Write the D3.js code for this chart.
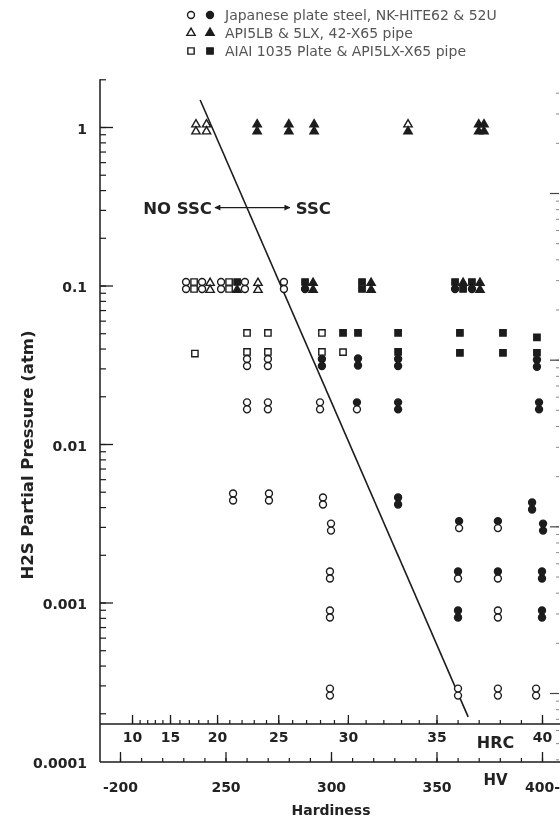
<!DOCTYPE html>
<html>
<head>
<meta charset="utf-8">
<script src="https://cdn.jsdelivr.net/npm/d3@7"></script>
<style>
body { margin: 0; background: #fff; }
svg { display: block; font-family: "DejaVu Sans", sans-serif; }
</style>
</head>
<body>
<div class="container"></div>
<script>
const width = 560;
const height = 819;

// legend
const seriesNames = ['Japanese plate steel, NK-HITE62 & 52U', 'API5LB & 5LX, 42-X65 pipe', 'AIAI 1035 Plate & API5LX-X65 pipe'];
const seriesShapes = ['c', 't', 's'];

// axes
const pressureTicks = [1, 0.1, 0.01, 0.001, 0.0001];
const pressureLabels = ['1', '0.1', '0.01', '0.001', '0.0001'];
const hvTicks = [200, 250, 300, 350, 400];
const hvLabels = ['-200', '250', '300', '350', '400-'];
const hrcTicks = [10, 15, 20, 25, 30, 35, 40];
const hrcAsHV = [205.7, 223.7, 246, 275, 308, 350, 400];

// points: [hardness HV, H2S pressure atm, marks from top to bottom]
// c circle, t triangle, s square; o open, f filled
const rowNear1 = [
    [236, 1, 'to to'], [241, 1, 'to to'], [265, 1, 'tf tf'], [280, 1, 'tf tf'],
    [292, 1, 'tf tf'], [336.5, 1, 'to tf'], [370, 1, 'tf tf'], [372.5, 1, 'tf tf']
];
const rowNear01 = [
    [231.3, 0.1, 'co co'], [235.1, 0.1, 'so so'], [238.9, 0.1, 'co co'], [242.7, 0.1, 'to to'],
    [247.9, 0.1, 'co co'], [251.7, 0.1, 'so so'], [255.5, 0.1, 'sf tf'], [259.2, 0.1, 'co co'],
    [265.4, 0.1, 'to to'], [277.7, 0.1, 'co co'], [287.7, 0.1, 'sf cf'], [291.5, 0.1, 'tf tf'],
    [314.7, 0.1, 'sf sf'], [319, 0.1, 'tf tf'], [358.8, 0.1, 'sf cf'], [362.6, 0.1, 'tf sf'],
    [366.8, 0.1, 'sf cf'], [370.6, 0.1, 'tf tf']
];
const rowNear005 = [
    [260.2, 0.0502, 'so'], [270.1, 0.0502, 'so'], [295.7, 0.0502, 'so'], [305.7, 0.0502, 'sf'],
    [312.8, 0.0502, 'sf'], [331.8, 0.0502, 'sf'], [361.1, 0.0502, 'sf'], [381.5, 0.0502, 'sf'],
    [397.6, 0.047, 'sf']
];
const rowNear0035 = [
    [235.5, 0.0372, 'so'], [260.2, 0.0344, 'so co co'], [270.1, 0.0344, 'so co co'],
    [295.7, 0.0344, 'so cf cf'], [305.7, 0.038, 'so'], [312.8, 0.0329, 'cf cf'],
    [331.8, 0.0344, 'sf cf cf'], [361.1, 0.0376, 'sf'], [381.5, 0.0376, 'sf'], [397.6, 0.034, 'sf cf cf']
];
const rowNear0017 = [
    [260.2, 0.0174, 'co co'], [270.1, 0.0174, 'co co'], [294.8, 0.0174, 'co co'],
    [312.3, 0.0174, 'cf co'], [331.8, 0.0174, 'cf cf'], [398.6, 0.0174, 'cf cf']
];
const rowNear0045 = [
    [253.6, 0.00463, 'co co'], [270.6, 0.00463, 'co co'], [296.2, 0.00437, 'co co'],
    [331.8, 0.00437, 'cf cf'], [395.3, 0.00406, 'cf cf']
];
const rowNear0003 = [
    [300, 0.00299, 'co co'], [360.7, 0.0031, 'cf co'], [379.1, 0.0031, 'cf co'], [400.5, 0.00299, 'cf cf']
];
const rowNear00015 = [
    [299.5, 0.00149, 'co co'], [360.2, 0.00149, 'cf co'], [379.1, 0.00149, 'cf co'], [400, 0.00149, 'cf cf']
];
const rowNear000085 = [
    [299.5, 0.000846, 'co co'], [360.2, 0.000846, 'cf cf'], [379.1, 0.000846, 'co co'], [400, 0.000846, 'cf cf']
];
const rowNear000027 = [
    [299.5, 0.000272, 'co co'], [360.2, 0.000272, 'co co'], [379.1, 0.000272, 'co co'], [397.2, 0.000272, 'co co']
];

// SSC boundary
const boundary = [[238, 1.48], [365, 0.00019]];

const points = [].concat(rowNear1, rowNear01, rowNear005, rowNear0035, rowNear0017,
    rowNear0045, rowNear0003, rowNear00015, rowNear000085, rowNear000027);

const ink = '#1b1b1b';

const svg = d3.select('.container')
    .append('svg')
    .attr('width', width)
    .attr('height', height);

svg.append('rect').attr('width', width).attr('height', height).attr('fill', '#fff');

const defs = svg.append('defs');
defs.append('filter').attr('id', 'scan')
    .append('feGaussianBlur').attr('stdDeviation', 0.35);
defs.append('marker')
    .attr('id', 'arrow')
    .attr('viewBox', '0 0 10 10')
    .attr('refX', 9).attr('refY', 5)
    .attr('markerWidth', 7).attr('markerHeight', 6)
    .attr('markerUnits', 'userSpaceOnUse')
    .attr('orient', 'auto-start-reverse')
    .append('path').attr('d', 'M0,0L10,5L0,10z').attr('fill', ink);

const G = svg.append('g').attr('filter', 'url(#scan)');

const x = d3.scaleLinear().domain([200, 400]).range([120, 542]);
const y = d3.scaleLog().domain([1, 0.0001]).range([127, 761]);
const hrcX = d3.scaleLinear().domain(hrcTicks).range(hrcAsHV.map(x));

const axisX = 100;
const hrcY = 724;
const hvY = 762;
const rightEdge = 560;

// left axis
G.append('line')
    .attr('x1', axisX).attr('x2', axisX)
    .attr('y1', y(2)).attr('y2', hvY)
    .attr('stroke', ink).attr('stroke-width', 1.5);

const yMinor = y.copy().domain([2, 0.0001]).ticks().filter(d => d < 2.01);

G.append('g')
    .attr('transform', 'translate(' + axisX + ',0)')
    .call(d3.axisRight(y).tickValues(yMinor.filter(d => d > 0.0001)).tickSize(6).tickFormat(''))
    .call(g => g.select('.domain').remove())
    .selectAll('line').attr('stroke', ink).attr('stroke-width', 1.2);

G.append('g')
    .attr('transform', 'translate(' + axisX + ',0)')
    .call(d3.axisRight(y).tickValues(pressureTicks.slice(0, 4)).tickSize(13).tickFormat(''))
    .call(g => g.select('.domain').remove())
    .selectAll('line').attr('stroke', ink).attr('stroke-width', 1.3);

G.append('g')
    .attr('transform', 'translate(' + axisX + ',2)')
    .call(d3.axisLeft(y).tickValues(pressureTicks).tickSize(0).tickPadding(13)
        .tickFormat((d, i) => pressureLabels[i]))
    .call(g => g.select('.domain').remove())
    .selectAll('text')
    .attr('font-family', '"DejaVu Sans", sans-serif')
    .attr('font-size', 14).attr('font-weight', 'bold').attr('fill', '#222');

// HRC axis
G.append('line')
    .attr('x1', axisX).attr('x2', rightEdge)
    .attr('y1', hrcY).attr('y2', hrcY)
    .attr('stroke', ink).attr('stroke-width', 1.5);

G.append('g')
    .attr('transform', 'translate(0,' + hrcY + ')')
    .call(d3.axisTop(hrcX).tickValues(d3.range(10, 41)).tickSize(4).tickFormat(''))
    .call(g => g.select('.domain').remove())
    .selectAll('line').attr('stroke', ink).attr('stroke-width', 1.2);

G.append('g')
    .attr('transform', 'translate(0,' + hrcY + ')')
    .call(d3.axisTop(hrcX).tickValues(hrcTicks).tickSize(9).tickFormat(''))
    .call(g => g.select('.domain').remove())
    .selectAll('line').attr('stroke', ink).attr('stroke-width', 1.3);

G.append('g')
    .attr('transform', 'translate(0,' + hrcY + ')')
    .call(d3.axisBottom(hrcX).tickValues(hrcTicks).tickSize(0).tickPadding(8))
    .call(g => g.select('.domain').remove())
    .selectAll('text')
    .attr('font-family', '"DejaVu Sans", sans-serif')
    .attr('font-size', 14).attr('font-weight', 'bold').attr('fill', '#222');

// HV axis
G.append('line')
    .attr('x1', axisX).attr('x2', rightEdge)
    .attr('y1', hvY).attr('y2', hvY)
    .attr('stroke', ink).attr('stroke-width', 1.5);

G.append('g')
    .attr('transform', 'translate(0,' + hvY + ')')
    .call(d3.axisTop(x).tickValues(d3.range(200, 401, 10)).tickSize(4).tickFormat(''))
    .call(g => g.select('.domain').remove())
    .selectAll('line').attr('stroke', ink).attr('stroke-width', 1.2);

G.append('g')
    .attr('transform', 'translate(0,' + hvY + ')')
    .call(d3.axisTop(x).tickValues(hvTicks).tickSize(10).tickFormat(''))
    .call(g => g.select('.domain').remove())
    .selectAll('line').attr('stroke', ink).attr('stroke-width', 1.3);

G.append('g')
    .attr('transform', 'translate(0,' + hvY + ')')
    .call(d3.axisBottom(x).tickValues(hvTicks).tickSize(0).tickPadding(20)
        .tickFormat((d, i) => hvLabels[i]))
    .call(g => g.select('.domain').remove())
    .selectAll('text')
    .attr('font-family', '"DejaVu Sans", sans-serif')
    .attr('font-size', 14).attr('font-weight', 'bold').attr('fill', '#222');

G.append('text')
    .attr('x', x(378)).attr('y', hrcY + 18).attr('dy', '0.35em')
    .attr('text-anchor', 'middle')
    .attr('font-size', 16).attr('font-weight', 'bold').attr('fill', '#222')
    .text('HRC');

G.append('text')
    .attr('x', x(378)).attr('y', hvY + 18).attr('dy', '0.35em')
    .attr('text-anchor', 'middle')
    .attr('font-size', 15).attr('font-weight', 'bold').attr('fill', '#222')
    .text('HV');

G.append('text')
    .attr('x', x(300)).attr('y', 810).attr('dy', '0.35em')
    .attr('text-anchor', 'middle')
    .attr('font-size', 14).attr('font-weight', 'bold').attr('fill', '#222')
    .text('Hardiness');

G.append('text')
    .attr('transform', 'translate(27,455) rotate(-90)')
    .attr('dy', '0.35em')
    .attr('text-anchor', 'middle')
    .attr('font-size', 16.5).attr('font-weight', 'bold').attr('fill', '#222')
    .text('H2S Partial Pressure (atm)');

// partial right axis, cut off at the edge of the scan
const yRight = d3.scaleLog().domain([1, 0.001]).range([193, 693]);
const rightMinor = yRight.copy().domain([4, 0.0004]).ticks();
G.append('g')
    .attr('transform', 'translate(559,0)')
    .call(d3.axisLeft(yRight).tickValues(rightMinor).tickSize(3).tickFormat(''))
    .call(g => g.select('.domain').remove())
    .selectAll('line').attr('stroke', '#888');
G.append('g')
    .attr('transform', 'translate(559,0)')
    .call(d3.axisLeft(yRight).tickValues([1, 0.1, 0.01, 0.001]).tickSize(9).tickFormat(''))
    .call(g => g.select('.domain').remove())
    .selectAll('line').attr('stroke', '#444').attr('stroke-width', 1.2);

// boundary line
G.append('path')
    .datum(boundary)
    .attr('d', d3.line().x(d => x(d[0])).y(d => y(d[1])))
    .attr('fill', 'none')
    .attr('stroke', ink)
    .attr('stroke-width', 1.6);

// NO SSC <-> SSC
const arrowP = 0.31;
G.append('line')
    .attr('x1', x(245)).attr('x2', x(280.5))
    .attr('y1', y(arrowP)).attr('y2', y(arrowP))
    .attr('stroke', ink).attr('stroke-width', 1.4)
    .attr('marker-start', 'url(#arrow)')
    .attr('marker-end', 'url(#arrow)');

G.append('text')
    .attr('x', x(245) - 3).attr('y', y(arrowP)).attr('dy', '0.36em')
    .attr('text-anchor', 'end')
    .attr('font-size', 16.5).attr('font-weight', 'bold').attr('fill', '#222')
    .text('NO SSC');

G.append('text')
    .attr('x', x(280.5) + 6).attr('y', y(arrowP)).attr('dy', '0.36em')
    .attr('font-size', 16.5).attr('font-weight', 'bold').attr('fill', '#222')
    .text('SSC');

// markers
const symbolType = { c: d3.symbolCircle, t: d3.symbolTriangle, s: d3.symbolSquare };
const symbolSize = { c: 38, t: 30, s: 40 };
const step = 7;

function drawMark(sel, code) {
    const shape = code[0];
    const filled = code[1] === 'f';
    sel.append('path')
        .attr('d', d3.symbol(symbolType[shape], symbolSize[shape])())
        .attr('fill', filled ? ink : '#fff')
        .attr('stroke', ink)
        .attr('stroke-width', 1.4);
}

const stacks = G.append('g').selectAll('g')
    .data(points)
    .join('g')
    .attr('transform', d => 'translate(' + x(d[0]) + ',' + y(d[1]) + ')');

stacks.each(function (d) {
    const marks = d[2].split(' ');
    const g = d3.select(this);
    marks.forEach((m, i) => {
        const item = g.append('g')
            .attr('transform', 'translate(0,' + ((i - (marks.length - 1) / 2) * step + (m[0] === 't' ? 1 : 0)) + ')');
        drawMark(item, m);
    });
});

// legend
const legend = G.append('g').selectAll('g')
    .data(seriesNames)
    .join('g')
    .attr('transform', (d, i) => 'translate(0,' + (15 + i * 18) + ')');

legend.each(function (d, i) {
    const g = d3.select(this);
    const shape = seriesShapes[i];
    drawMark(g.append('g').attr('transform', 'translate(191,0)'), shape + 'o');
    drawMark(g.append('g').attr('transform', 'translate(210,0)'), shape + 'f');
    g.append('text')
        .attr('x', 225).attr('dy', '0.36em')
        .attr('font-size', 14).attr('fill', '#555')
        .text(d);
});
</script>
</body>
</html>
